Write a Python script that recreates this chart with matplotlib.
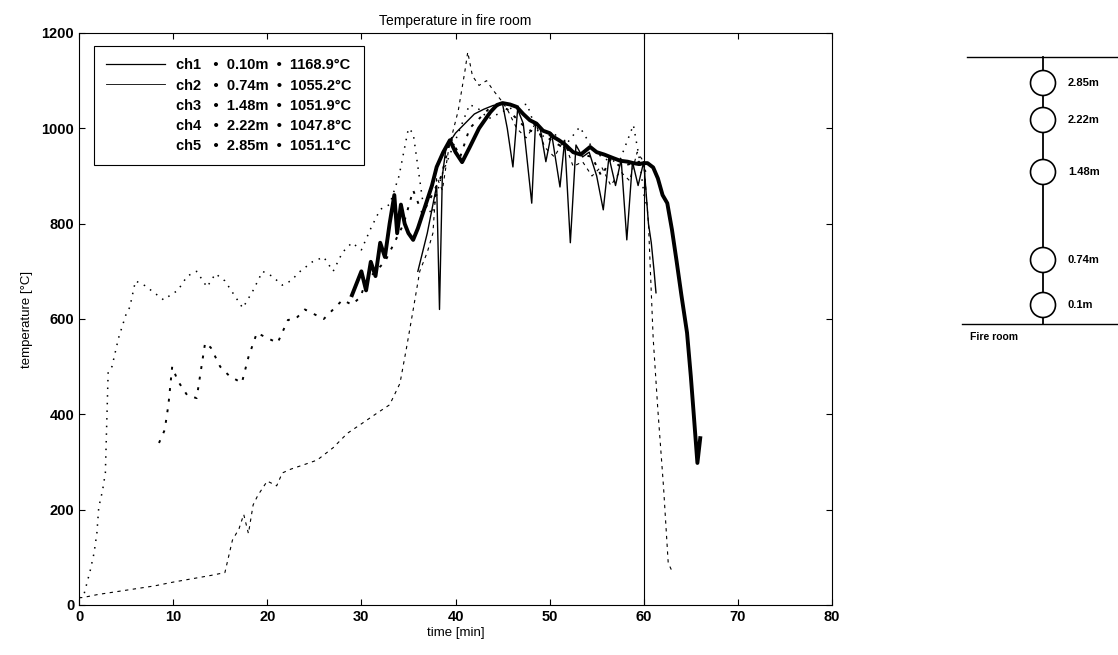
import numpy as np
import matplotlib.pyplot as plt
from matplotlib.lines import Line2D
from matplotlib.patches import Circle

plt.rcParams['font.family'] = ['Liberation Sans', 'DejaVu Sans']

# --- datos (tiempo en min, temperatura en C) ---
canales = ['ch1', 'ch2', 'ch3', 'ch4', 'ch5']
alturas = ['0.10m', '0.74m', '1.48m', '2.22m', '2.85m']
maximos = ['1168.9', '1055.2', '1051.9', '1047.8', '1051.1']

t1 = [0, 0.5, 1, 2, 4, 6, 8, 10, 12, 14, 15.5, 16.3, 17, 17.5, 18, 18.5, 19, 20,
      21, 21.6, 22.5, 24, 25.3, 27, 28.5, 30, 31.7, 33, 34.1, 34.8, 35.5, 36.2,
      37, 37.6, 38, 38.6, 39.3, 40.3, 41, 41.3, 41.8, 42.5, 43.3, 44, 44.8, 45.5,
      46.5, 47.5, 48.5, 49.5, 50.5, 51.5, 52.5, 53.5, 54.5, 55.5, 56.5, 57.5,
      58.5, 59.3, 60, 60.5, 61, 61.5, 62.1, 62.6, 63.1]
T1 = [15, 16, 18, 22, 28, 34, 40, 48, 55, 62, 68, 136, 160, 190, 150, 210, 230, 260,
      250, 277, 285, 295, 304, 330, 360, 380, 403, 420, 465, 540, 619, 700,
      740, 780, 898, 870, 960, 1038, 1120, 1160, 1110, 1090, 1100, 1080, 1060, 1040,
      1000, 980, 1010, 960, 940, 975, 920, 930, 900, 920, 880, 910,
      890, 950, 930, 800, 560, 409, 248, 88, 67]

t2 = [29, 30, 30.5, 31, 31.5, 32, 32.5, 33, 33.5, 33.8, 34.2, 34.6, 35, 35.5, 36,
      36.5, 37, 37.5, 38, 38.7, 39.4, 40, 40.7, 41.5, 42.5, 43.7, 44.4, 45, 45.8,
      46.5, 47.2, 47.9, 48.6, 49.3, 50, 50.4, 51, 51.7, 52.5, 53.3, 54.3, 55, 55.8,
      56.7, 57.5, 58.3, 58.9, 59.5, 60, 60.4, 61, 61.5, 62, 62.5, 63, 63.5, 64,
      64.6, 65, 65.3, 65.7, 66]
T2 = [650, 700, 660, 720, 690, 760, 730, 800, 860, 780, 840, 800, 780, 766, 790,
      820, 850, 880, 919, 950, 975, 950, 929, 960, 1000, 1034, 1049, 1053, 1050,
      1045, 1030, 1017, 1010, 995, 990, 982, 975, 965, 950, 945, 961, 950, 945,
      938, 932, 930, 927, 925, 927, 927, 918, 895, 860, 843, 787, 720, 650,
      571, 480, 403, 298, 350]

t3 = [36, 37, 38, 38.3, 38.6, 39, 40, 41, 42, 43, 44, 45, 45.5, 46.1, 46.6, 47.2,
      48.1, 48.5, 49, 49.6, 50.2, 51.1, 51.6, 52.2, 52.8, 53.5, 54.2, 55, 55.7,
      56.3, 57, 57.6, 58.2, 58.8, 59.4, 60, 60.5, 60.8, 61.1, 61.3]
T3 = [700, 780, 880, 620, 900, 960, 990, 1010, 1030, 1040, 1048, 1051, 1000, 919,
      1040, 1010, 843, 1010, 1000, 930, 990, 877, 975, 760, 965, 940, 950, 900,
      829, 940, 880, 935, 766, 930, 880, 930, 800, 760, 700, 655]

t4 = [8.5, 9.1, 9.5, 9.9, 10.5, 11.5, 12.5, 13.4, 14, 15, 16, 17.3, 18, 18.9, 20,
      21.1, 22.2, 23, 24, 25, 26, 27, 28, 29, 29.9, 30.5, 31.5, 32.5, 33.5, 34.5,
      35.5, 36.5, 37.5, 38.5, 39.5, 40.5, 41.5, 42.5, 43.5, 44.5, 45.5, 46.5,
      47.5, 48.5, 49.5, 50.5, 51.5, 52.5, 53.5, 54.5, 55.5, 56.5, 57.5, 58.5,
      59.5, 60.5]
T4 = [340, 367, 420, 500, 470, 440, 434, 550, 540, 500, 480, 466, 520, 571, 560,
      550, 598, 600, 620, 610, 600, 620, 640, 630, 646, 680, 700, 720, 760, 800,
      870, 820, 860, 900, 980, 940, 1000, 1020, 1040, 1047, 1040, 1020,
      1000, 990, 985, 970, 960, 950, 945, 940, 900, 935, 920, 925,
      930, 900]

t5 = [0, 0.5, 1.2, 1.6, 1.9, 2.1, 2.5, 2.8, 3.1, 3.5, 4.2, 5, 5.4, 6, 7, 8, 9,
      9.7, 10.5, 11.5, 12.5, 13.6, 14.5, 15.5, 16.5, 17.4, 18.5, 19.5, 20.5, 21.6,
      22.5, 23.5, 24.8, 26, 27, 28, 29, 30, 31, 32, 33, 34, 35, 35.5, 36.5, 37.5,
      38.5, 39.5, 40.5, 41.5, 42.5, 43.5, 44.5, 45.5, 46.5, 47.6, 48.5, 49.5,
      50.5, 51.5, 53.2, 54.5, 55.5, 56.5, 57.5, 58.9, 59.5, 60.2]
T5 = [15, 20, 73, 109, 151, 205, 240, 277, 490, 500, 560, 610, 625, 680, 670, 655,
      640, 650, 660, 690, 700, 667, 695, 680, 650, 623, 660, 700, 690, 671,
      680, 700, 720, 730, 700, 740, 760, 745, 790, 830, 840, 900, 1000, 990, 850,
      820, 900, 950, 1000, 1050, 1040, 1020, 1030, 1040, 1045, 1051, 1000, 980,
      990, 960, 1003, 960, 940, 930, 935, 1007, 940, 835]

# posiciones verticales del esquema de la derecha (no a escala)
esquema_y = [305, 260, 172, 120, 83]

fig = plt.figure(figsize=(11.18, 6.55), dpi=100)
ax = fig.add_axes([79 / 1118, 50 / 655, 753 / 1118, 572 / 655])

ax.plot(t1, T1, color='black', lw=0.8, ls=(0, (3, 4)))
ax.plot(t4, T4, color='black', lw=1.4, ls=(0, (1.5, 4)))
ax.plot(t5, T5, color='black', lw=1.1, ls=(0, (1, 4)))
ax.plot(t3, T3, color='black', lw=1.0)
ax.plot(t2, T2, color='black', lw=2.8)
ax.axvline(60, color='black', lw=0.8)

ax.set_xlim(0, 80)
ax.set_ylim(0, 1200)
ax.set_xticks(np.arange(0, 81, 10))
ax.set_yticks(np.arange(0, 1201, 200))
ax.tick_params(direction='in', top=True, right=True, length=4, labelsize=10.5)
for lab in ax.get_xticklabels() + ax.get_yticklabels():
    lab.set_fontweight('bold')
for s in ax.spines.values():
    s.set_linewidth(0.8)

ax.set_title('Temperature in fire room', fontsize=10, pad=6)
ax.set_xlabel('time [min]', fontsize=9.5, labelpad=2)
ax.set_ylabel('temperature [°C]', fontsize=9.5, labelpad=6)

# leyenda: solo ch1 y ch2 dejan ver su trazo
handles = [Line2D([], [], color='black', lw=0.9),
           Line2D([], [], color='black', lw=0.6),
           Line2D([], [], color='white', lw=0.6),
           Line2D([], [], color='white', lw=0.6),
           Line2D([], [], color='white', lw=0.6)]
etiquetas = [f'{c}   \u2022  {a}  \u2022  {m}°C' for c, a, m in zip(canales, alturas, maximos)]
leg = ax.legend(handles, etiquetas, loc='upper left', fontsize=10.5,
                fancybox=False, edgecolor='black', framealpha=1,
                handlelength=4.0, borderpad=0.85, labelspacing=0.42,
                bbox_to_anchor=(0.01, 0.99))
leg.get_frame().set_linewidth(0.8)
for txt in leg.get_texts():
    txt.set_fontweight('bold')

# esquema de sensores
ax2 = fig.add_axes([940 / 1118, (655 - 345) / 655, 178 / 1118, 305 / 655])
ax2.set_xlim(940, 1118)
ax2.set_ylim(345, 40)
ax2.axis('off')
ax2.plot([967, 1118], [57, 57], color='black', lw=1.0)
ax2.plot([962, 1118], [324, 324], color='black', lw=1.0)
ax2.plot([1043, 1043], [57, 324], color='black', lw=1.3)
for y, a in zip(esquema_y, alturas):
    ax2.add_patch(Circle((1043, y), 12.5, facecolor='white', edgecolor='black', lw=1.2, zorder=3))
    ax2.text(1068, y, a.replace('0.10m', '0.1m'), fontsize=8, fontweight='bold', va='center')
ax2.text(970, 337, 'Fire room', fontsize=7.5, fontweight='bold', va='center')

fig.savefig('out.png', dpi=100)
